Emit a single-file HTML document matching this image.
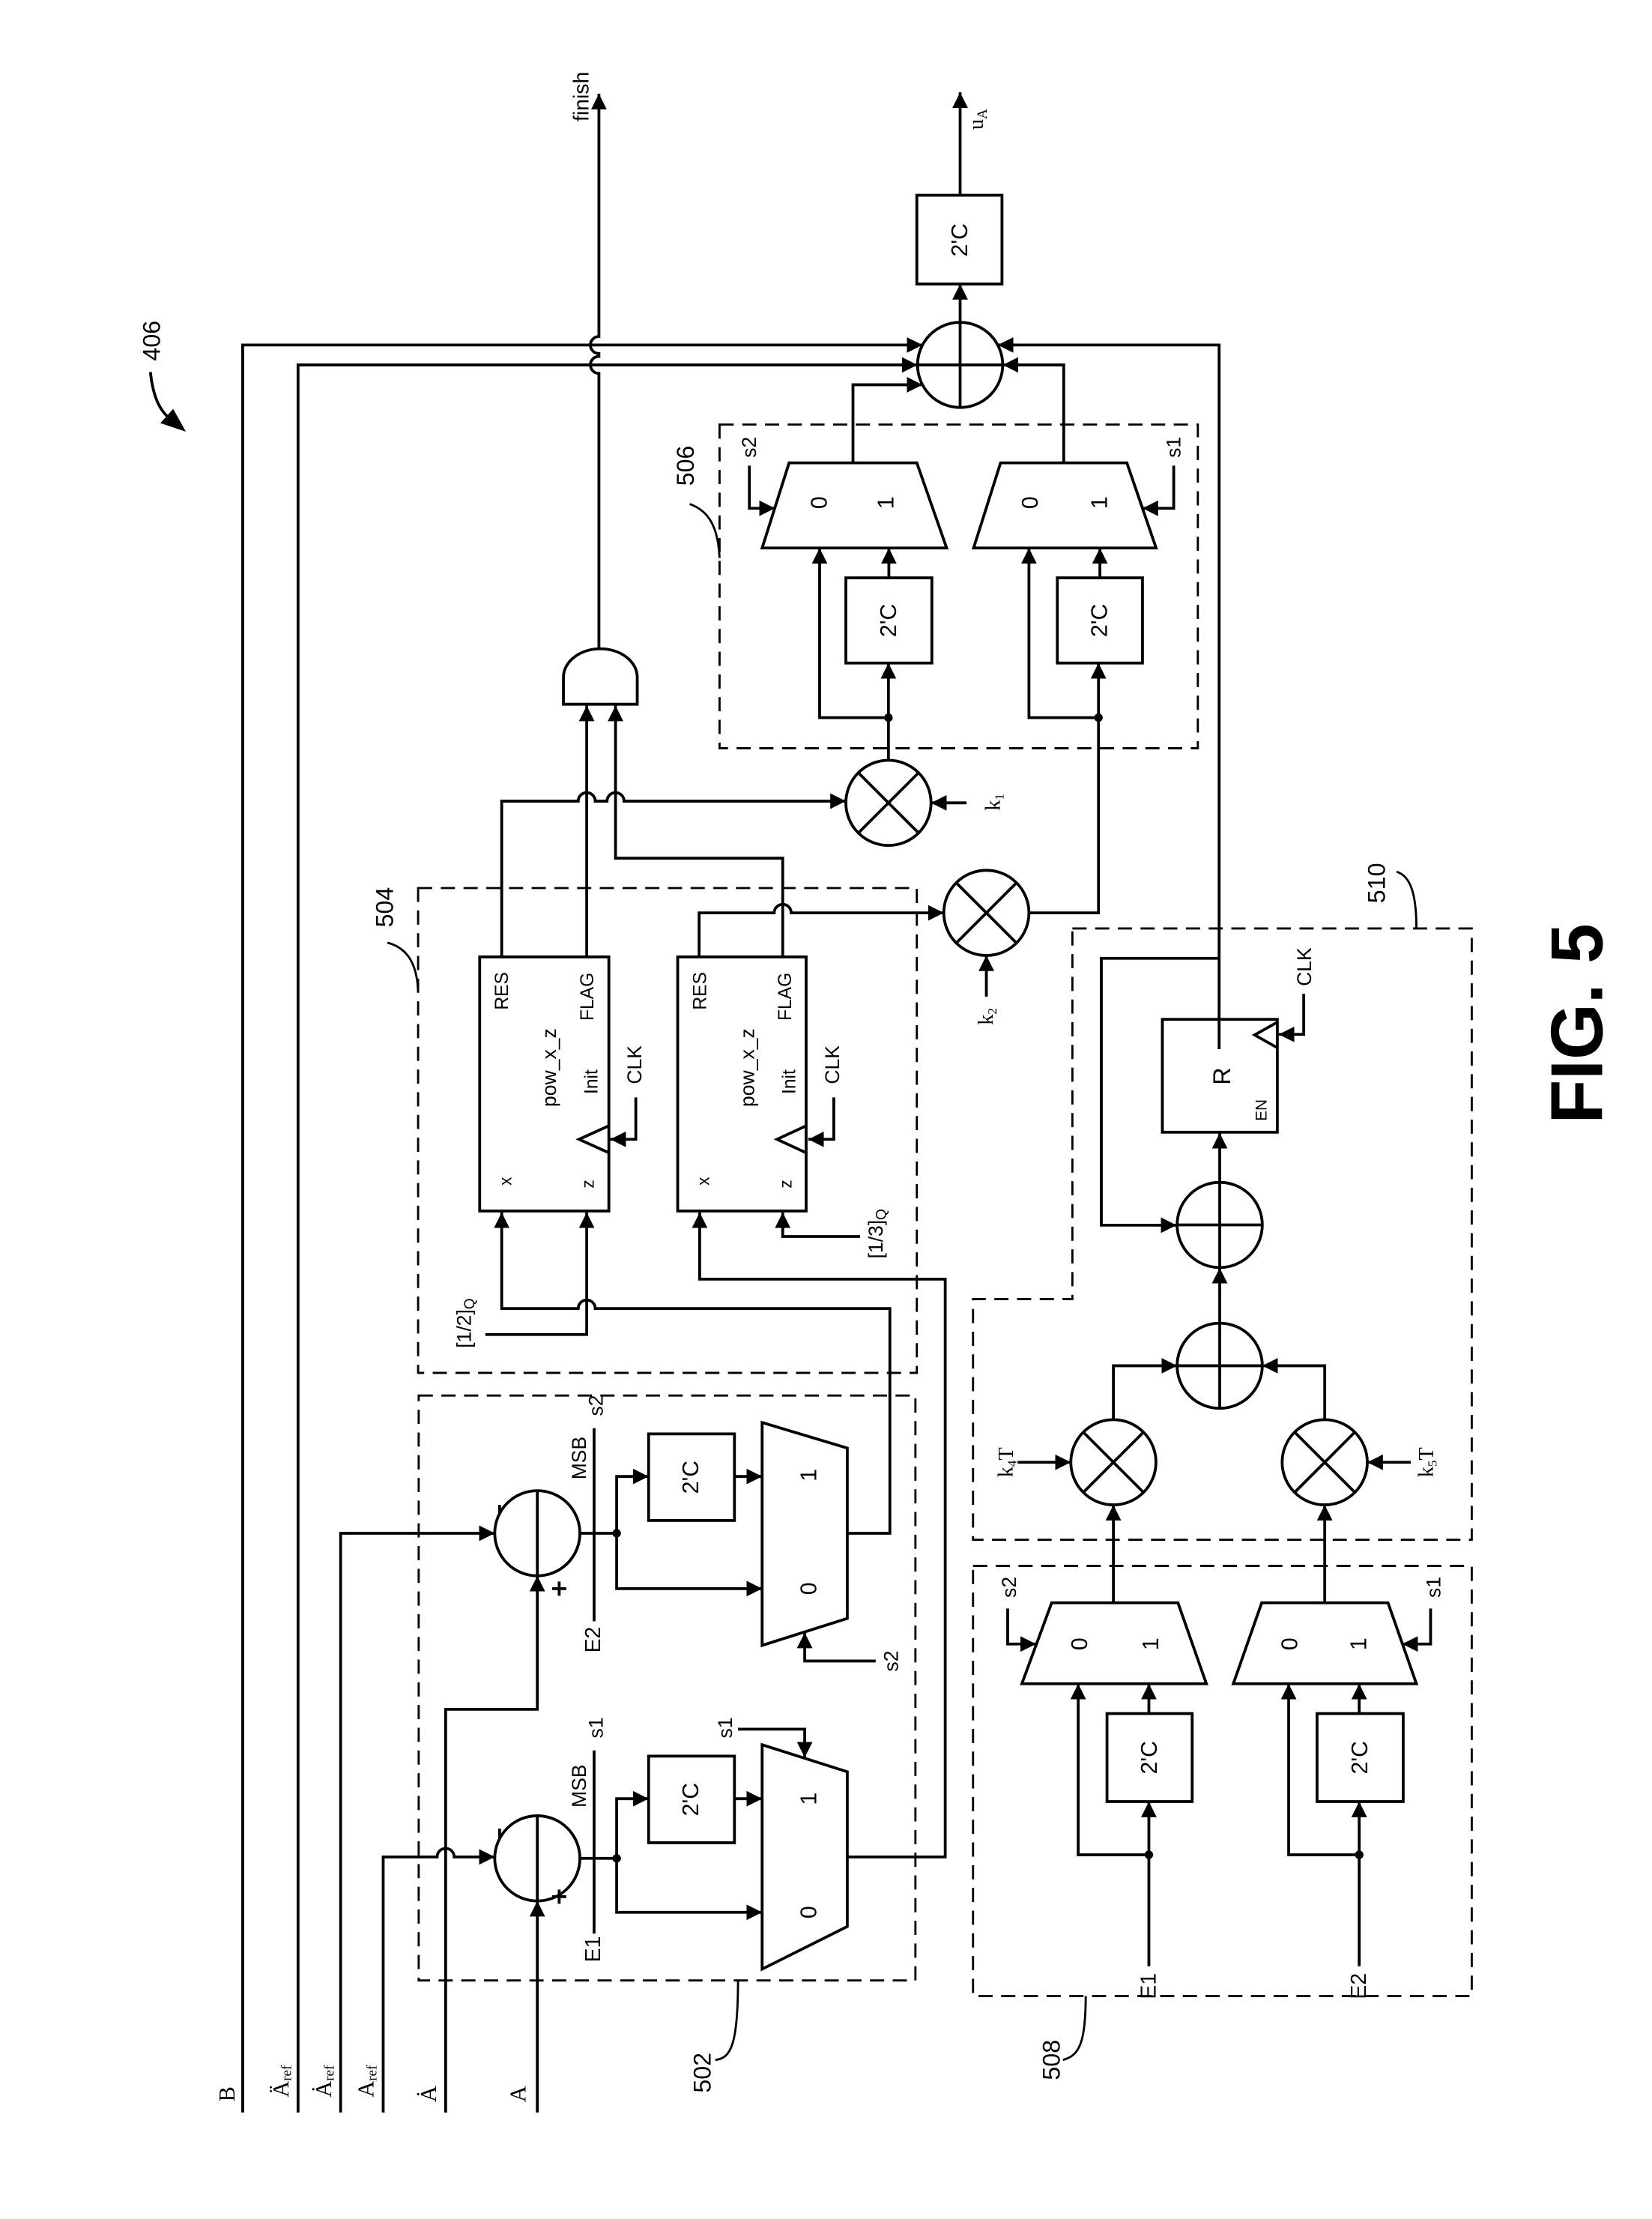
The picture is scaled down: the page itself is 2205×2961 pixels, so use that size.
<!DOCTYPE html>
<html><head><meta charset="utf-8"><style>
html,body{margin:0;padding:0;background:#fff;}
svg{display:block;}
text{font-family:"Liberation Sans",sans-serif;fill:#000;}
.s{font-family:"Liberation Serif",serif;}
</style></head><body>
<svg width="2205" height="2961" viewBox="0 0 1164 1563" xmlns="http://www.w3.org/2000/svg">
<defs>
<marker id="a" viewBox="0 0 10 10" refX="10" refY="5" markerWidth="11" markerHeight="11" markerUnits="userSpaceOnUse" orient="auto"><path d="M0,0 L10,5 L0,10 z" fill="#000"/></marker>
</defs>
<g fill="none" stroke="#000" stroke-width="2">
<path d="M171,1488 V243 H650" marker-end="url(#a)"/>
<path d="M210,1488 V257 H646.5" marker-end="url(#a)"/>
<path d="M240,1488 V1080 H348.6" marker-end="url(#a)"/>
<path d="M270,1488 V1308 H308 a6,6 0 0 1 12,0 H348.6" marker-end="url(#a)"/>
<path d="M314,1488 V1204 H378.6 V1110" marker-end="url(#a)"/>
<path d="M378.6,1488 V1339" marker-end="url(#a)"/>
<circle cx="378.6" cy="1309" r="30"/><line x1="378.6" y1="1279" x2="378.6" y2="1339"/>
<circle cx="378.6" cy="1080" r="30"/><line x1="378.6" y1="1050" x2="378.6" y2="1110"/>
<line x1="352" y1="1288" x2="352" y2="1295"/><line x1="352" y1="1060" x2="352" y2="1067"/>
<line x1="394" y1="1331" x2="394" y2="1341"/><line x1="389" y1="1336" x2="399" y2="1336"/>
<line x1="394" y1="1114" x2="394" y2="1124"/><line x1="389" y1="1119" x2="399" y2="1119"/>
<line x1="418.6" y1="1233" x2="418.6" y2="1362"/>
<line x1="418.6" y1="1006" x2="418.6" y2="1142"/>
<path d="M408.6,1309 H434.5"/>
<path d="M434.5,1309 V1267 H457" marker-end="url(#a)"/>
<path d="M434.5,1309 V1347 H537" marker-end="url(#a)"/>
<rect x="457" y="1237" width="60.5" height="61"/>
<path d="M517.5,1267 H537" marker-end="url(#a)"/>
<polygon points="537,1229 597,1248 597,1357 537,1387"/>
<path d="M520,1218 H567 V1238" marker-end="url(#a)"/>
<path d="M597,1308 H666 V901 H493 V854" marker-end="url(#a)"/>
<path d="M408.6,1080 H434.5"/>
<path d="M434.5,1080 V1040 H457" marker-end="url(#a)"/>
<path d="M434.5,1080 V1119 H537" marker-end="url(#a)"/>
<rect x="457" y="1010" width="60.5" height="61"/>
<path d="M517.5,1040 H537" marker-end="url(#a)"/>
<polygon points="537,1002 597,1020 597,1140 537,1159"/>
<path d="M617,1170 H567 V1150" marker-end="url(#a)"/>
<path d="M597,1080 H627 V921.7 H419.4 a6,6 0 0 0 -12,0 H353.5 V854" marker-end="url(#a)"/>
<path d="M342,940 H413.4 V854" marker-end="url(#a)"/>
<path d="M606,871 H551.5 V854" marker-end="url(#a)"/>
<rect x="338" y="674" width="91" height="179"/>
<rect x="477.5" y="674" width="90.5" height="179"/>
<path d="M429,793 L408,802.5 L429,812"/>
<path d="M568,793 L547.5,802.5 L568,812"/>
<path d="M448,773 V802.5 H430" marker-end="url(#a)"/>
<path d="M587.5,773 V802.5 H569.5" marker-end="url(#a)"/>
<path d="M353.5,674 V564.3 H407.4 a6,6 0 0 1 12,0 H427.7 a6,6 0 0 1 12,0 H596" marker-end="url(#a)"/>
<path d="M413.4,674 V497" marker-end="url(#a)"/>
<path d="M551.5,674 V604.5 H433.7 V497" marker-end="url(#a)"/>
<path d="M492.6,674 V643 H545.5 a6,6 0 0 1 12,0 H665" marker-end="url(#a)"/>
<path d="M397,496 V477 A26,20 0 0 1 449,477 V496 Z"/>
<path d="M422,457 V263 a6,6 0 0 1 0,-12 V249 a6,6 0 0 1 0,-12 V66" marker-end="url(#a)"/>
<circle cx="626" cy="565.5" r="30"/>
<line x1="604.8" y1="544.3" x2="647.2" y2="586.7"/><line x1="647.2" y1="544.3" x2="604.8" y2="586.7"/>
<path d="M681,565.5 H656" marker-end="url(#a)"/>
<circle cx="695" cy="643" r="30"/>
<line x1="673.8" y1="621.8" x2="716.2" y2="664.2"/><line x1="716.2" y1="621.8" x2="673.8" y2="664.2"/>
<path d="M695,702 V673" marker-end="url(#a)"/>
<path d="M626,535.5 V505.5"/>
<path d="M626,505.5 V467" marker-end="url(#a)"/>
<path d="M626,505.5 H577.5 V386" marker-end="url(#a)"/>
<rect x="596" y="407" width="60.6" height="60"/>
<path d="M626.3,407 V386" marker-end="url(#a)"/>
<polygon points="556,326 646,326 667,386 537,386"/>
<path d="M528,328 V358 H546" marker-end="url(#a)"/>
<path d="M601,326 V271 H650" marker-end="url(#a)"/>
<path d="M725,643 H774 V505.5"/>
<path d="M774,505.5 V467" marker-end="url(#a)"/>
<path d="M774,505.5 H725 V386" marker-end="url(#a)"/>
<rect x="745" y="407" width="60" height="60"/>
<path d="M775,407 V386" marker-end="url(#a)"/>
<polygon points="705,326 794,326 814.6,386 686,386"/>
<path d="M827,328 V358 H805" marker-end="url(#a)"/>
<path d="M749.5,326 V257 H706.5" marker-end="url(#a)"/>
<path d="M859,739 V243 H703" marker-end="url(#a)"/>
<circle cx="676.5" cy="257" r="30"/>
<line x1="646.5" y1="257" x2="706.5" y2="257"/><line x1="676.5" y1="227" x2="676.5" y2="287"/>
<path d="M676.5,227 V200" marker-end="url(#a)"/>
<rect x="646" y="137.5" width="60" height="62.5"/>
<path d="M676.5,137.5 V65" marker-end="url(#a)"/>
<rect x="819" y="718" width="81" height="79.5"/>
<path d="M900,720 L884,729 L900,738"/>
<path d="M918.6,700 V728.6 H901" marker-end="url(#a)"/>
<path d="M859,675 H776 V863 H829" marker-end="url(#a)"/>
<circle cx="859.4" cy="862.8" r="30"/>
<line x1="829.4" y1="862.8" x2="889.4" y2="862.8"/><line x1="859.4" y1="832.8" x2="859.4" y2="892.8"/>
<path d="M859.4,832.8 V798" marker-end="url(#a)"/>
<circle cx="859.4" cy="962" r="30"/>
<line x1="829.4" y1="962" x2="889.4" y2="962"/><line x1="859.4" y1="932" x2="859.4" y2="992"/>
<path d="M859.4,932 V893" marker-end="url(#a)"/>
<path d="M784.5,1000 V962 H829.4" marker-end="url(#a)"/>
<path d="M933.4,1000 V962 H889.4" marker-end="url(#a)"/>
<circle cx="784.5" cy="1030" r="30"/>
<line x1="763.3" y1="1008.8" x2="805.7" y2="1051.2"/><line x1="805.7" y1="1008.8" x2="763.3" y2="1051.2"/>
<circle cx="933.4" cy="1030" r="30"/>
<line x1="912.2" y1="1008.8" x2="954.6" y2="1051.2"/><line x1="954.6" y1="1008.8" x2="912.2" y2="1051.2"/>
<path d="M717,1030 H754.5" marker-end="url(#a)"/>
<path d="M994,1030 H963.4" marker-end="url(#a)"/>
<polygon points="741,1129 830,1129 850,1186 720,1186"/>
<path d="M784.5,1129 V1060" marker-end="url(#a)"/>
<path d="M710,1133 V1158 H730" marker-end="url(#a)"/>
<rect x="780" y="1207" width="60" height="62"/>
<path d="M809.5,1207 V1186" marker-end="url(#a)"/>
<path d="M809.5,1385 V1306.5"/>
<path d="M809.5,1306.5 V1269" marker-end="url(#a)"/>
<path d="M809.5,1306.5 H759.7 V1186" marker-end="url(#a)"/>
<polygon points="889,1129 978,1129 998,1186 869,1186"/>
<path d="M933.4,1129 V1060" marker-end="url(#a)"/>
<path d="M1008,1133 V1158 H988" marker-end="url(#a)"/>
<rect x="928" y="1207" width="60.7" height="62"/>
<path d="M957.7,1207 V1186" marker-end="url(#a)"/>
<path d="M957.7,1385 V1306.5"/>
<path d="M957.7,1306.5 V1269" marker-end="url(#a)"/>
<path d="M957.7,1306.5 H908 V1186" marker-end="url(#a)"/>
<path d="M106,262 C108,282 114,292 124,298"/>
</g>
<polygon points="131,304 113,298 122,288" fill="#000"/>
<g fill="#000">
<circle cx="434.5" cy="1309" r="3"/><circle cx="434.5" cy="1080" r="3"/>
<circle cx="626" cy="505.5" r="3"/><circle cx="774" cy="505.5" r="3"/>
<circle cx="809.5" cy="1306.5" r="3"/><circle cx="957.7" cy="1306.5" r="3"/>
</g>
<g fill="none" stroke="#000" stroke-width="1.5" stroke-dasharray="10 6">
<rect x="295" y="983" width="350" height="412"/>
<rect x="294.6" y="625.5" width="351.4" height="341.5"/>
<rect x="507" y="299" width="337" height="228"/>
<path d="M755.6,654 H1037 V1084.6 H685.6 V915 H755.6 Z"/>
<rect x="685.6" y="1103" width="351.4" height="303"/>
</g>
<g fill="none" stroke="#000" stroke-width="1.5">
<path d="M520,1395 C520,1440 515,1450 504,1451"/>
<path d="M294.6,699 C294,680 288,668 273,664"/>
<path d="M507,393 C506,372 500,360 486,355"/>
<path d="M998,654 C998,630 994,617 984,614"/>
<path d="M765,1406 C765,1440 760,1448 749,1451"/>
</g>
<g font-size="16" text-anchor="middle" dominant-baseline="central">
<text class="s" transform="translate(160,1475) rotate(-90)">B</text>
<text class="s" transform="translate(198,1466) rotate(-90)">Ä<tspan font-size="10" dy="4">ref</tspan></text>
<text class="s" transform="translate(228,1466) rotate(-90)">Ȧ<tspan font-size="10" dy="4">ref</tspan></text>
<text class="s" transform="translate(258,1466) rotate(-90)">A<tspan font-size="10" dy="4">ref</tspan></text>
<text class="s" transform="translate(302,1475) rotate(-90)">Ȧ</text>
<text class="s" transform="translate(365,1475) rotate(-90)">A</text>
<text font-size="17" transform="translate(495,1460) rotate(-90)">502</text>
<text font-size="17" transform="translate(271,639) rotate(-90)">504</text>
<text font-size="17" transform="translate(483,328) rotate(-90)">506</text>
<text font-size="17" transform="translate(970,622) rotate(-90)">510</text>
<text font-size="17" transform="translate(741,1451) rotate(-90)">508</text>
<text font-size="17" transform="translate(107,240) rotate(-90)">406</text>
<text font-size="15" transform="translate(418,1373) rotate(-90)">E1</text>
<text font-size="14" transform="translate(408,1258) rotate(-90)">MSB</text>
<text font-size="14" transform="translate(420,1217) rotate(-90)">s1</text>
<text font-size="15" transform="translate(418,1155) rotate(-90)">E2</text>
<text font-size="14" transform="translate(408,1027) rotate(-90)">MSB</text>
<text font-size="14" transform="translate(420,990) rotate(-90)">s2</text>
<text font-size="14" transform="translate(511,1217) rotate(-90)">s1</text>
<text font-size="14" transform="translate(628,1170) rotate(-90)">s2</text>
<text font-size="16" transform="translate(487,1267.5) rotate(-90)">2'C</text>
<text font-size="16" transform="translate(487,1040.5) rotate(-90)">2'C</text>
<text font-size="16" transform="translate(570,1267) rotate(-90)">1</text>
<text font-size="16" transform="translate(570,1347) rotate(-90)">0</text>
<text font-size="16" transform="translate(570,1039) rotate(-90)">1</text>
<text font-size="16" transform="translate(570,1119) rotate(-90)">0</text>
<text font-size="14" transform="translate(327,932) rotate(-90)">[1/2]<tspan font-size="10" dy="4">Q</tspan></text>
<text font-size="14" transform="translate(617,869) rotate(-90)">[1/3]<tspan font-size="10" dy="4">Q</tspan></text>
<text font-size="13" transform="translate(354,698) rotate(-90)">RES</text>
<text font-size="13" transform="translate(414,702) rotate(-90)">FLAG</text>
<text font-size="14" transform="translate(387,752) rotate(-90)">pow_x_z</text>
<text font-size="13" transform="translate(417,762) rotate(-90)">Init</text>
<text font-size="12" transform="translate(356,832) rotate(-90)">x</text>
<text font-size="12" transform="translate(414,834) rotate(-90)">z</text>
<text font-size="14" transform="translate(447,750) rotate(-90)">CLK</text>
<text font-size="13" transform="translate(493.5,698) rotate(-90)">RES</text>
<text font-size="13" transform="translate(553.5,702) rotate(-90)">FLAG</text>
<text font-size="14" transform="translate(526.5,752) rotate(-90)">pow_x_z</text>
<text font-size="13" transform="translate(556.5,762) rotate(-90)">Init</text>
<text font-size="12" transform="translate(495.5,832) rotate(-90)">x</text>
<text font-size="12" transform="translate(553.5,834) rotate(-90)">z</text>
<text font-size="14" transform="translate(586.5,750) rotate(-90)">CLK</text>
<text font-size="15" transform="translate(410,68) rotate(-90)">finish</text>
<text class="s" font-size="15" transform="translate(688,84) rotate(-90)">u<tspan font-size="10" dy="4">A</tspan></text>
<text font-size="16" transform="translate(676.5,169) rotate(-90)">2'C</text>
<text font-size="16" transform="translate(626.3,437) rotate(-90)">2'C</text>
<text font-size="16" transform="translate(775,437) rotate(-90)">2'C</text>
<text font-size="16" transform="translate(577.5,354) rotate(-90)">0</text>
<text font-size="16" transform="translate(624.6,354) rotate(-90)">1</text>
<text font-size="16" transform="translate(726,354) rotate(-90)">0</text>
<text font-size="16" transform="translate(775,354) rotate(-90)">1</text>
<text font-size="14" transform="translate(528,315) rotate(-90)">s2</text>
<text font-size="14" transform="translate(827,315) rotate(-90)">s1</text>
<text class="s" font-size="15" transform="translate(700,565) rotate(-90)">k<tspan font-size="9" dy="4">1</tspan></text>
<text class="s" font-size="15" transform="translate(695,716) rotate(-90)">k<tspan font-size="9" dy="4">2</tspan></text>
<text font-size="17" transform="translate(861,758) rotate(-90)">R</text>
<text font-size="11" transform="translate(889,782) rotate(-90)">EN</text>
<text font-size="14" transform="translate(919,681) rotate(-90)">CLK</text>
<text class="s" font-size="15" transform="translate(709,1030) rotate(-90)">k<tspan font-size="9" dy="4">4</tspan><tspan dy="-4">T</tspan></text>
<text class="s" font-size="15" transform="translate(1005,1030) rotate(-90)">k<tspan font-size="9" dy="4">5</tspan><tspan dy="-4">T</tspan></text>
<text font-size="16" transform="translate(761,1158) rotate(-90)">0</text>
<text font-size="16" transform="translate(811,1158) rotate(-90)">1</text>
<text font-size="16" transform="translate(909,1158) rotate(-90)">0</text>
<text font-size="16" transform="translate(957.7,1158) rotate(-90)">1</text>
<text font-size="14" transform="translate(711,1118) rotate(-90)">s2</text>
<text font-size="14" transform="translate(1010,1118) rotate(-90)">s1</text>
<text font-size="16" transform="translate(810,1238) rotate(-90)">2'C</text>
<text font-size="16" transform="translate(958.3,1238) rotate(-90)">2'C</text>
<text font-size="15" transform="translate(809.5,1399) rotate(-90)">E1</text>
<text font-size="15" transform="translate(957.7,1399) rotate(-90)">E2</text>
<text font-size="52" font-weight="bold" textLength="141" lengthAdjust="spacingAndGlyphs" transform="translate(1111,721) rotate(-90)">FIG. 5</text>
</g>
</svg>
</body></html>
